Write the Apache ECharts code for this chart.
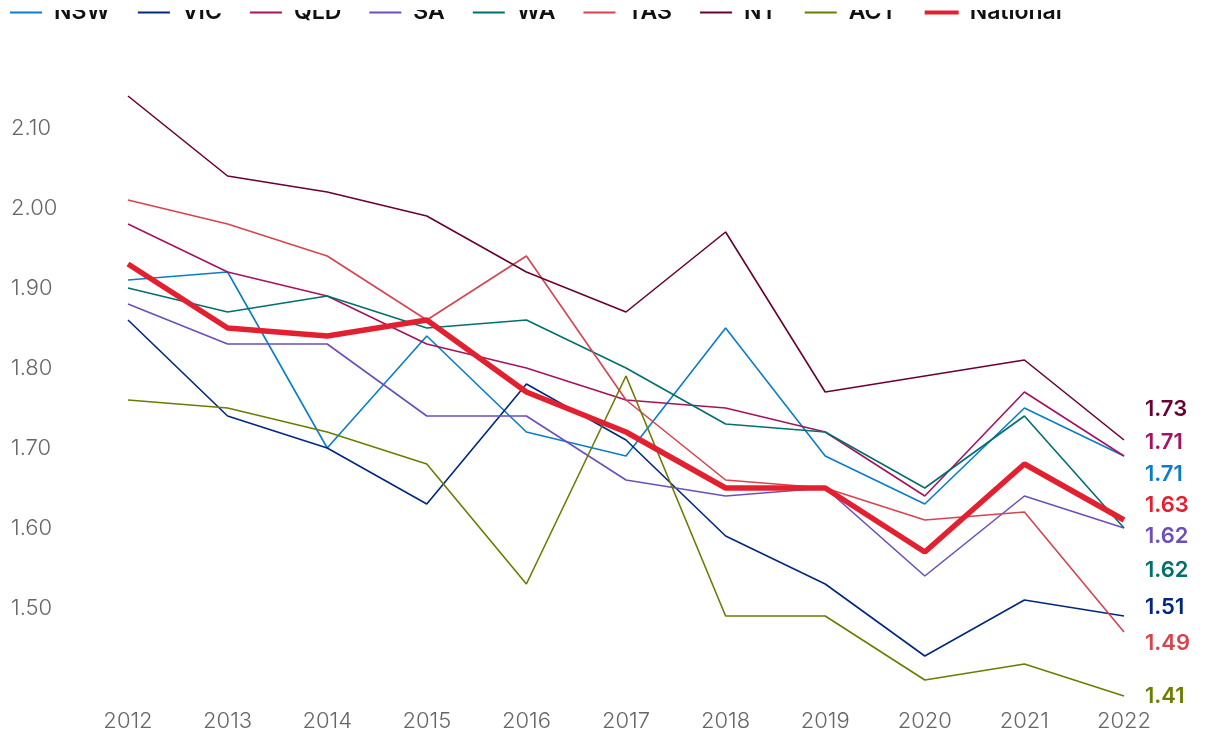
<!DOCTYPE html>
<html>
<head>
<meta charset="utf-8">
<script src="https://cdn.jsdelivr.net/npm/echarts@6/dist/echarts.min.js"></script>
<style>
html,body{margin:0;padding:0;background:#fff;}
#chart{width:1220px;height:742px;}
</style>
</head>
<body>
<div id="chart"></div>
<script>
const years = ['2012','2013','2014','2015','2016','2017','2018','2019','2020','2021','2022'];
const yTicks = [1.5, 1.6, 1.7, 1.8, 1.9, 2.0, 2.1];

const NSW      = [1.91, 1.92, 1.70, 1.84, 1.72, 1.69, 1.85, 1.69, 1.63, 1.75, 1.69];
const VIC      = [1.86, 1.74, 1.70, 1.63, 1.78, 1.71, 1.59, 1.53, 1.44, 1.51, 1.49];
const QLD      = [1.98, 1.92, 1.89, 1.83, 1.80, 1.76, 1.75, 1.72, 1.64, 1.77, 1.69];
const SA       = [1.88, 1.83, 1.83, 1.74, 1.74, 1.66, 1.64, 1.65, 1.54, 1.64, 1.60];
const WA       = [1.90, 1.87, 1.89, 1.85, 1.86, 1.80, 1.73, 1.72, 1.65, 1.74, 1.60];
const TAS      = [2.01, 1.98, 1.94, 1.86, 1.94, 1.76, 1.66, 1.65, 1.61, 1.62, 1.47];
const NT       = [2.14, 2.04, 2.02, 1.99, 1.92, 1.87, 1.97, 1.77, 1.79, 1.81, 1.71];
const ACT      = [1.76, 1.75, 1.72, 1.68, 1.53, 1.79, 1.49, 1.49, 1.41, 1.43, 1.39];
const National = [1.93, 1.85, 1.84, 1.86, 1.77, 1.72, 1.65, 1.65, 1.57, 1.68, 1.61];

const seriesNames = ['NSW','VIC','QLD','SA','WA','TAS','NT','ACT','National'];
const seriesData  = [NSW, VIC, QLD, SA, WA, TAS, NT, ACT, National];
const endLabels   = ['1.71','1.51','1.71','1.62','1.62','1.49','1.73','1.41','1.63'];

const colors  = ['#0a7dc9','#00287f','#a4135f','#6a4fbd','#00706c','#d7434f','#6a0034','#6b7c00','#e2202f'];
const widths  = [1.6, 1.6, 1.6, 1.6, 1.6, 1.6, 1.6, 1.6, 5.5];
const labelDy = [18, -9, -14, 8, 42, 11, -31, 0, -15];

const chart = echarts.init(document.getElementById('chart'), null, {renderer: 'canvas'});

const series = seriesNames.map((name, i) => ({
  name: name,
  type: 'line',
  data: seriesData[i],
  symbol: 'none',
  z: name === 'National' ? 5 : 2,
  lineStyle: {color: colors[i], width: widths[i]},
  itemStyle: {color: colors[i]},
  endLabel: {
    show: true,
    formatter: () => endLabels[i],
    color: colors[i],
    fontFamily: 'Inter',
    fontSize: 22,
    fontWeight: 600,
    distance: 21,
    offset: [0, labelDy[i]]
  }
}));

const legendData = seriesNames.map((name, i) => ({
  name: name,
  icon: 'rect',
  itemStyle: name === 'National'
    ? {color: colors[i], borderColor: colors[i], borderWidth: 2}
    : {color: colors[i], borderWidth: 0}
}));

chart.setOption({
  animation: false,
  backgroundColor: '#fff',
  color: colors,
  legend: {
    top: -4,
    left: 5,
    itemWidth: 32,
    itemHeight: 2,
    itemGap: 28,
    data: legendData,
    textStyle: {color: '#111', fontFamily: 'Inter', fontSize: 23, fontWeight: 600, padding: [0, 0, 0, 7]}
  },
  graphic: [{
    type: 'rect',
    left: 0, top: 0, z: 100,
    shape: {width: 1220, height: 10},
    style: {fill: '#fff'},
    silent: true
  }],
  grid: {left: 128, right: 96, top: 48, bottom: 38, containLabel: false},
  xAxis: {
    type: 'category',
    data: years,
    boundaryGap: false,
    axisLine: {show: false},
    axisTick: {show: false},
    splitLine: {show: false},
    axisLabel: {color: '#666', fontFamily: 'Inter', fontSize: 22, fontWeight: 300, margin: 6}
  },
  yAxis: {
    type: 'value',
    min: 1.38,
    max: 2.2,
    axisLine: {show: false},
    axisTick: {show: false},
    splitLine: {show: false},
    axisLabel: {
      customValues: yTicks,
      formatter: v => v.toFixed(2),
      color: '#666',
      fontFamily: 'Inter',
      fontSize: 22,
      fontWeight: 300,
      align: 'left',
      margin: 117,
      padding: [0, 0, 4, 0]
    }
  },
  series: series
});
</script>
</body>
</html>
